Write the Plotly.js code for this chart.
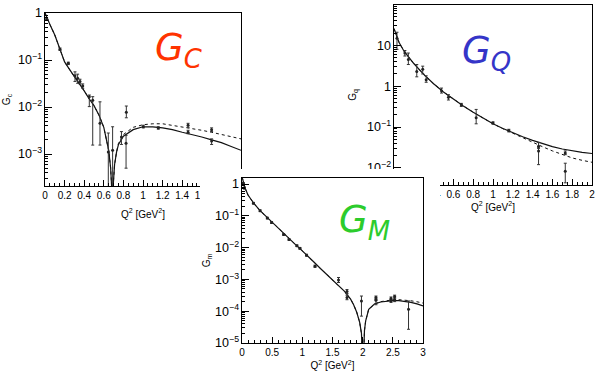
<!DOCTYPE html>
<html><head><meta charset="utf-8">
<script src="https://cdn.plot.ly/plotly-3.0.1.min.js"></script>
<style>html,body{margin:0;padding:0;background:#fff}</style>
</head><body><div id="chart" style="width:596px;height:371px"></div>
<script>
// ---------- G_C panel ----------
const gcCurveQ2 = [0,0.02,0.05,0.1,0.15,0.2,0.25,0.3,0.35,0.4,0.45,0.5,0.55,0.6,0.65,0.67,0.68,0.687,0.695,0.71,0.73,0.75,0.8,0.9,1.0,1.1,1.2,1.3,1.4,1.5,1.6,1.7,1.8,1.9,2.0];
const gcSolid = [1.0,0.77,0.57,0.34,0.17,0.091,0.063,0.045,0.031,0.022,0.015,0.0107,0.0068,0.0037,0.0012,0.0005,0.0002,0.00001,0.0002,0.0006,0.0011,0.0016,0.0024,0.0033,0.0038,0.0038,0.0036,0.0033,0.0029,0.0026,0.0023,0.002,0.00175,0.00145,0.0012];
const gcDotted = [1.0,0.77,0.57,0.34,0.17,0.091,0.063,0.045,0.031,0.022,0.015,0.0107,0.0068,0.0037,0.0012,0.0005,0.0002,0.00001,0.0002,0.0006,0.0011,0.0017,0.0026,0.0037,0.0042,0.0044,0.0044,0.0041,0.0038,0.0035,0.0032,0.0029,0.0026,0.0023,0.0021];
const gcDataQ2 = [0.017,0.153,0.238,0.306,0.333,0.357,0.385,0.452,0.487,0.561,0.646,0.69,0.78,0.827,0.83,1.003,1.156,1.46,1.46,1.70,1.70];
const gcDataVal = [0.73,0.17,0.085,0.046,0.041,0.035,0.028,0.0166,0.014,0.0045,0.0011,0.0012,0.0023,0.0017,0.0077,0.0038,0.0036,0.0041,0.0029,0.0033,0.0019];
const gcDataLo = [0.70,0.16,0.08,0.035,0.032,0.031,0.025,0.0102,0.00155,0.00155,0.00016,0.0002,0.0016,0.0005,0.0059,0.0036,0.0034,0.0037,0.0027,0.0030,0.0016];
const gcDataHi = [0.77,0.18,0.09,0.056,0.05,0.039,0.031,0.018,0.0166,0.0129,0.0028,0.0038,0.0030,0.0025,0.0105,0.0041,0.0038,0.0045,0.0032,0.0036,0.0021];

// ---------- G_Q panel ----------
const gqCurveQ2 = [0,0.02,0.05,0.1,0.15,0.2,0.3,0.4,0.5,0.6,0.7,0.8,0.9,1.0,1.1,1.2,1.3,1.4,1.5,1.6,1.7,1.8,1.9,2.0];
const gqSolid = [25.8,18,12,7.3,5.0,3.6,1.95,1.15,0.72,0.48,0.33,0.23,0.165,0.12,0.092,0.072,0.058,0.047,0.039,0.033,0.029,0.026,0.024,0.0225];
const gqDotted = [25.8,18,12,7.3,5.0,3.6,1.95,1.15,0.72,0.48,0.33,0.23,0.165,0.12,0.091,0.070,0.055,0.042,0.033,0.026,0.021,0.0175,0.0153,0.0137];
const gqDataQ2 = [0.03,0.11,0.145,0.23,0.29,0.325,0.48,0.55,0.68,0.83,1.0,1.16,1.46,1.46,1.73,1.73];
const gqDataVal = [15,6.5,4.5,2.3,2.6,1.45,0.78,0.54,0.35,0.17,0.126,0.082,0.034,0.026,0.023,0.0083];
const gqDataLo = [8,5.5,3.4,1.7,2.0,1.25,0.68,0.46,0.32,0.12,0.118,0.076,0.030,0.012,0.021,0.0043];
const gqDataHi = [21,7.5,6.5,3.4,3.1,1.8,0.9,0.62,0.38,0.27,0.134,0.088,0.042,0.032,0.026,0.013];

// ---------- G_M panel ----------
const gmCurveQ2 = [0,0.02,0.05,0.1,0.2,0.3,0.4,0.5,0.6,0.7,0.8,0.9,1.0,1.1,1.2,1.3,1.4,1.5,1.6,1.7,1.8,1.85,1.9,1.95,1.98,2.005,2.03,2.05,2.1,2.2,2.3,2.4,2.5,2.6,2.7,2.8,2.9,3.0];
const gmSolid = [1.71,1.15,0.75,0.45,0.24,0.145,0.095,0.062,0.040,0.026,0.0175,0.0118,0.0079,0.0053,0.0034,0.0022,0.00145,0.00098,0.00066,0.00042,0.00024,0.00016,0.000095,0.000045,0.00002,0.000001,0.000025,0.00005,0.000115,0.00017,0.000195,0.00021,0.000215,0.000215,0.000205,0.00019,0.00017,0.000147];
const gmDotted = [1.71,1.15,0.75,0.45,0.24,0.145,0.095,0.062,0.040,0.026,0.0175,0.0118,0.0079,0.0053,0.0034,0.0022,0.00145,0.00098,0.00066,0.00042,0.00024,0.00016,0.000095,0.000045,0.00002,0.000001,0.000025,0.00005,0.000115,0.00017,0.0002,0.000218,0.000228,0.00023,0.000225,0.000213,0.000198,0.00018];
const gmDataQ2 = [0.02,0.04,0.19,0.30,0.42,0.49,0.69,0.78,0.91,0.96,1.07,1.21,1.60,1.74,1.74,1.98,2.22,2.22,2.47,2.47,2.53,2.53,2.76];
const gmDataVal = [1.05,0.75,0.25,0.145,0.085,0.062,0.026,0.018,0.0115,0.0095,0.0058,0.0026,0.00095,0.00042,0.00027,0.00021,0.00027,0.00022,0.00025,0.00021,0.00029,0.00023,0.000115];
const gmDataLo = [0.98,0.70,0.235,0.136,0.08,0.058,0.0245,0.017,0.0108,0.0089,0.0054,0.0024,0.0008,0.00036,0.00023,0.00007,0.00024,0.00016,0.00023,0.00019,0.00026,0.0002,0.000027];
const gmDataHi = [1.12,0.80,0.265,0.154,0.09,0.066,0.0275,0.019,0.0122,0.0101,0.0062,0.0028,0.00115,0.00048,0.00032,0.0003,0.0003,0.00024,0.00028,0.00023,0.00032,0.00026,0.00021];

const xTitle = 'Q<sup>2</sup> [GeV<sup>2</sup>]';
const tickFont = {family:'Liberation Sans, Arial, sans-serif', size:10, color:'#000'};

function curveTrace(x, y, xa, ya, dash){
  return {x:x, y:y, xaxis:xa, yaxis:ya, type:'scatter', mode:'lines',
    line:{color:'#111', width:dash?1:1.2, dash:dash?'dot':'solid'}, hoverinfo:'skip', showlegend:false};
}
function dataTrace(x, y, lo, hi, xa, ya){
  return {x:x, y:y, xaxis:xa, yaxis:ya, type:'scatter', mode:'markers',
    marker:{color:'#222', size:3},
    error_y:{type:'data', symmetric:false,
      array:y.map((v,i)=>hi[i]-v), arrayminus:y.map((v,i)=>v-lo[i]),
      color:'#333', thickness:1, width:1.5},
    hoverinfo:'skip', showlegend:false};
}
function xAxis(domain, range, dtick, minor, anchor, standoff){
  return {domain:domain, range:range, dtick:dtick, tick0:0, anchor:anchor,
    showgrid:false, zeroline:false, showline:true, mirror:true, linecolor:'#000', linewidth:1,
    ticks:'inside', ticklen:6, tickcolor:'#000', tickfont:tickFont, ticklabeloverflow:'allow',
    minor:{ticks:'inside', ticklen:3, dtick:minor, tickcolor:'#000', showgrid:false},
    title:{text:xTitle, font:tickFont, standoff:standoff}, fixedrange:true};
}
function yAxis(domain, range, anchor, title, standoff){
  return {domain:domain, range:range, type:'log', dtick:1, exponentformat:'power', anchor:anchor,
    showgrid:false, zeroline:false, showline:true, mirror:true, linecolor:'#000', linewidth:1,
    ticks:'inside', ticklen:7, tickcolor:'#000', tickfont:tickFont, ticklabeloverflow:'allow',
    minor:{ticks:'inside', ticklen:3, dtick:'D1', tickcolor:'#000', showgrid:false},
    title:{text:title, font:tickFont, standoff:standoff}, fixedrange:true};
}
function hidden(domain, anchor){
  return {domain:domain, anchor:anchor, range:[0,1], showline:false, showticklabels:false,
    ticks:'', showgrid:false, zeroline:false, fixedrange:true};
}

const W = 596, H = 371;
const px = (a,b)=>[a/W, b/W];
const py = (top,bottom)=>[1-bottom/H, 1-top/H];

const data = [
  curveTrace(gcCurveQ2, gcDotted, 'x', 'y', true),
  curveTrace(gcCurveQ2, gcSolid, 'x', 'y', false),
  dataTrace(gcDataQ2, gcDataVal, gcDataLo, gcDataHi, 'x', 'y'),
  curveTrace(gqCurveQ2, gqDotted, 'x2', 'y2', true),
  curveTrace(gqCurveQ2, gqSolid, 'x2', 'y2', false),
  dataTrace(gqDataQ2, gqDataVal, gqDataLo, gqDataHi, 'x2', 'y2'),
  {x:[], y:[], xaxis:'x3', yaxis:'y3', type:'scatter', mode:'markers', showlegend:false, hoverinfo:'skip'},
  curveTrace(gmCurveQ2, gmDotted, 'x4', 'y4', true),
  curveTrace(gmCurveQ2, gmSolid, 'x4', 'y4', false),
  dataTrace(gmDataQ2, gmDataVal, gmDataLo, gmDataHi, 'x4', 'y4')
];

const bigFont = (c)=>({family:'DejaVu Sans, sans-serif', size:37, style:'italic', color:c});

const layout = {
  width:W, height:H, autosize:false,
  margin:{l:0, r:0, t:0, b:0},
  paper_bgcolor:'#fff', plot_bgcolor:'#fff',
  showlegend:false,
  xaxis: xAxis(px(45,241), [0,2], 0.2, 0.05, 'y', 10),
  yaxis: yAxis(py(13,186), [-3.68,0], 'x', 'G<sub>c</sub>', 5),
  xaxis2: xAxis(px(394,592), [0,2], 0.2, 0.05, 'y2', 4),
  yaxis2: yAxis(py(5,185), [-2.42,1.99], 'x2', 'G<sub>q</sub>', 8),
  xaxis3: hidden(px(200,440), 'y3'),
  yaxis3: hidden(py(169,371), 'x3'),
  xaxis4: xAxis(px(242,423), [0,3], 0.5, 0.1, 'y4', 6),
  yaxis4: yAxis(py(178,343), [-5,0.19], 'x4', 'G<sub>m</sub>', 2),
  annotations:[
    {text:'G<sub>C</sub>', xref:'paper', yref:'paper', x:178/W, y:1-50/H, xanchor:'center', yanchor:'middle',
     showarrow:false, font:bigFont('#ff3300')},
    {text:'G<sub>Q</sub>', xref:'paper', yref:'paper', x:486/W, y:1-53/H, xanchor:'center', yanchor:'middle',
     showarrow:false, font:bigFont('#3535c8')},
    {text:'G<sub>M</sub>', xref:'paper', yref:'paper', x:364/W, y:1-222/H, xanchor:'center', yanchor:'middle',
     showarrow:false, font:bigFont('#2ccc2c')}
  ]
};

Plotly.newPlot('chart', data, layout, {staticPlot:true, displayModeBar:false});
</script></body></html>
